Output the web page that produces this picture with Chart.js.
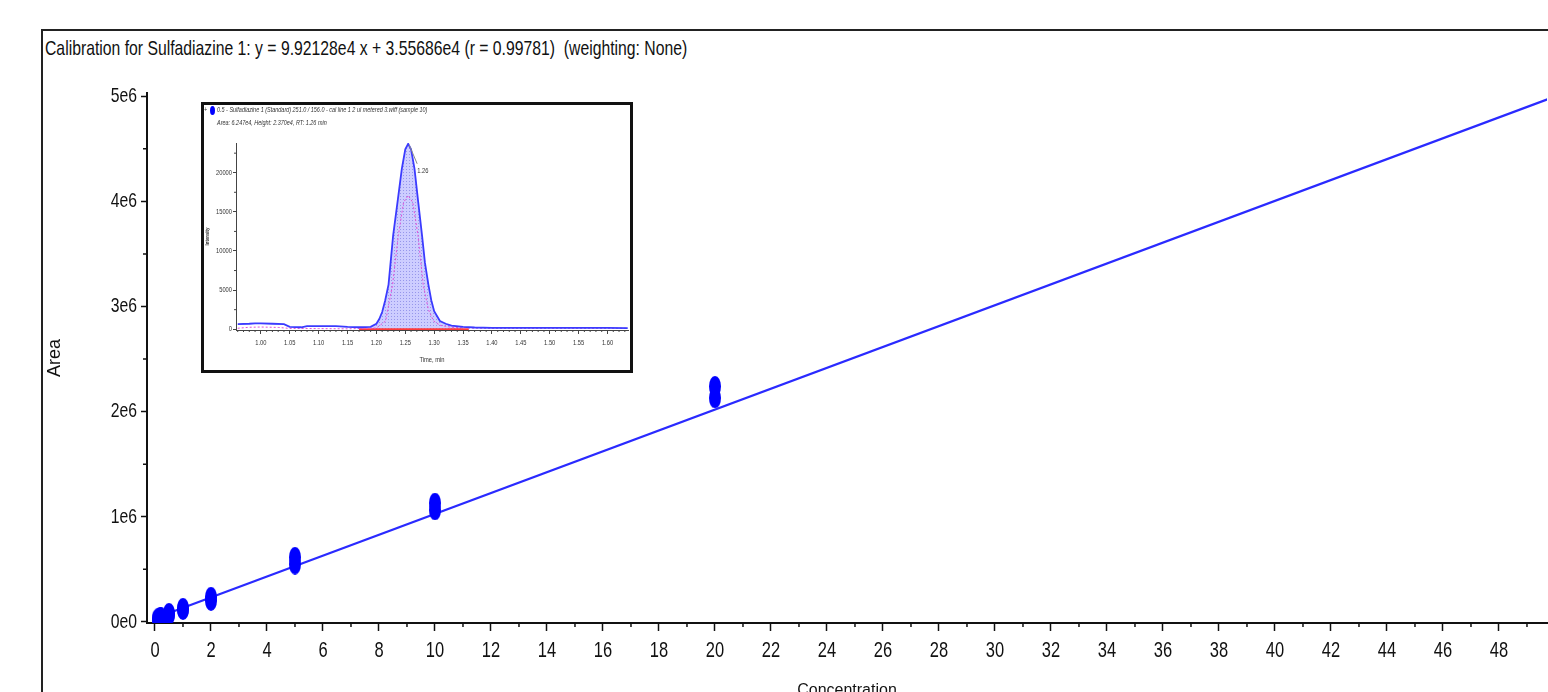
<!DOCTYPE html>
<html>
<head>
<meta charset="utf-8">
<script src="https://cdn.jsdelivr.net/npm/chart.js@4.4.1/dist/chart.umd.min.js"></script>
<style>
  body { margin: 0; background: #fff; overflow: hidden; }
  #wrap { position: relative; width: 1548px; height: 692px; overflow: hidden; }
  #frame { position: absolute; left: 41px; top: 29px; width: 1600px; height: 700px;
           border-left: 2px solid #222; border-top: 2px solid #222; }
  #title { position: absolute; left: 45px; top: 35px; white-space: pre; color: #111; line-height: 26px;
           font-size: 21px; font-family: 'Liberation Sans', Arial, sans-serif;
           transform: scaleX(0.75); transform-origin: 0 0; }
  #main { position: absolute; left: 0; top: 0; }
  #inset { position: absolute; left: 201px; top: 102px; width: 426px; height: 265px;
           border: 3px solid #111; background: #fff; }
  #inset canvas { position: absolute; left: 0; top: 0; }
  .hdr { position: absolute; white-space: pre; color: #333; line-height: 9px;
         font: italic 7px 'Liberation Sans', Arial, sans-serif;
         transform: scaleX(0.78); transform-origin: 0 0; }
  #dot { position: absolute; left: 6px; top: 1px; width: 5px; height: 9px; border-radius: 50%; background: #0000ff; }
</style>
</head>
<body>
<div id="wrap">
  <div id="frame"></div>
  <div id="title">Calibration for Sulfadiazine 1: y = 9.92128e4 x + 3.55686e4 (r = 0.99781)  (weighting: None)</div>
  <canvas id="main" width="1556" height="692"></canvas>
  <div id="inset">
    <canvas id="insetChart" width="426" height="265"></canvas>
    <div class="hdr" style="left:0px;top:1px;">+</div>
    <div id="dot"></div>
    <div class="hdr" style="left:13px;top:1px;">0.5 - Sulfadiazine 1 (Standard) 251.0 / 156.0 - cal line 1 2 ul metered 3.wiff (sample 10)</div>
    <div class="hdr" style="left:13px;top:14px;">Area: 6.247e4, Height: 2.370e4, RT: 1.26 min</div>
  </div>
</div>
<script>
// "Narrow" is only a tag: text set in it is squeezed horizontally (see condense)
const NARROW = "'Liberation Sans Narrow', 'Liberation Sans', Arial, sans-serif";
const SANS = "'Liberation Sans', Arial, sans-serif";

// Calibration points (replicates)
const concX = [0.1, 0.1, 0.2, 0.2, 0.5, 0.5, 1, 1, 2, 2, 5, 5, 10, 10, 20, 20];
const areaY = [22000, 30000, 38000, 45000, 68000, 82000, 118000, 130000,
               205000, 235000, 550000, 615000, 1065000, 1130000, 2130000, 2240000];

// Fitted line end points (y = 9.92128e4 x + 3.55686e4)
const fitX = [0, 50];
const fitY = [35569, 4996209];

const xTicks = [0, 2, 4, 6, 8, 10, 12, 14, 16, 18, 20, 22, 24, 26, 28, 30, 32, 34, 36, 38, 40, 42, 44, 46, 48];
const xMinor = [1, 3, 5, 7, 9, 11, 13, 15, 17, 19, 21, 23, 25, 27, 29, 31, 33, 35, 37, 39, 41, 43, 45, 47, 49];
const yTicks = [0, 1e6, 2e6, 3e6, 4e6, 5e6];
const yTickLabels = ['0e0', '1e6', '2e6', '3e6', '4e6', '5e6'];
const yMinor = [5e5, 1.5e6, 2.5e6, 3.5e6, 4.5e6];

// Inset chromatogram (XIC)
const rtTime = [0.96, 0.98, 0.99, 1.00, 1.02, 1.04, 1.05, 1.07, 1.08, 1.10, 1.13, 1.15, 1.17, 1.19, 1.20,
                1.205, 1.21, 1.215, 1.221, 1.229, 1.237, 1.244, 1.25, 1.255, 1.26, 1.266, 1.272, 1.279,
                1.284, 1.29, 1.295, 1.30, 1.31, 1.32, 1.33, 1.35, 1.37, 1.40, 1.45, 1.50, 1.55, 1.60, 1.635];
const blueInt = [650, 700, 750, 750, 700, 650, 300, 250, 400, 400, 400, 300, 250, 300, 700,
                 1300, 2200, 3600, 5700, 12000, 16500, 20500, 23000, 23700, 23000, 20500, 16500, 12000,
                 8500, 5700, 3700, 2300, 1050, 700, 450, 300, 220, 180, 160, 160, 160, 160, 130];
const pinkTime = [0.96, 0.98, 1.00, 1.03, 1.05, 1.10, 1.15, 1.20, 1.216, 1.228, 1.238, 1.247, 1.255,
                  1.263, 1.272, 1.281, 1.29, 1.299, 1.31, 1.33, 1.36, 1.40, 1.50, 1.635];
const pinkInt = [120, 250, 280, 230, 100, 80, 50, 150, 1050, 5700, 12000, 16200, 17100,
                 16200, 12000, 5700, 2500, 1050, 500, 250, 150, 120, 120, 120];
const baseTime = [1.17, 1.36];
const baseInt = [0, 0];
const insetXTicks = [1.00, 1.05, 1.10, 1.15, 1.20, 1.25, 1.30, 1.35, 1.40, 1.45, 1.50, 1.55, 1.60];
const insetYTicks = [0, 5000, 10000, 15000, 20000];
const insetYMinor = [2500, 7500, 12500, 17500, 22500];
const peakRT = 1.255, peakHeight = 23700, peakLabel = '1.26';

// squeeze text drawn in the NARROW family, like the condensed font of the original
function condense(canvas, factor) {
  const ctx = canvas.getContext('2d');
  const orig = ctx.fillText.bind(ctx);
  ctx.fillText = function (text, x, y, maxWidth) {
    if (!ctx.font.includes('Narrow')) {
      return maxWidth === undefined ? orig(text, x, y) : orig(text, x, y, maxWidth);
    }
    ctx.save();
    ctx.translate(x, y);
    ctx.scale(factor, 1);
    if (maxWidth === undefined) orig(text, 0, 0);
    else orig(text, 0, 0, maxWidth / factor);
    ctx.restore();
  };
}

// small tick marks between labelled ticks
const minorTicks = {
  id: 'minorTicks',
  afterDraw(chart, args, opts) {
    const ctx = chart.ctx;
    const xs = chart.scales.x, ys = chart.scales.y;
    ctx.save();
    ctx.strokeStyle = opts.color;
    ctx.lineWidth = opts.width;
    ctx.beginPath();
    opts.x.forEach(v => {
      const px = xs.getPixelForValue(v);
      if (px < xs.left || px > xs.right) return;
      ctx.moveTo(px, xs.top);
      ctx.lineTo(px, xs.top + opts.len);
    });
    opts.y.forEach(v => {
      const py = ys.getPixelForValue(v);
      ctx.moveTo(ys.right - opts.len, py);
      ctx.lineTo(ys.right, py);
    });
    ctx.stroke();
    ctx.restore();
  }
};

// ellipse marker for calibration points
function ellipseMarker(w, h, color) {
  const c = document.createElement('canvas');
  c.width = w; c.height = h;
  const g = c.getContext('2d');
  g.fillStyle = color;
  g.beginPath();
  g.ellipse(w / 2, h / 2, w / 2, h / 2, 0, 0, Math.PI * 2);
  g.fill();
  return c;
}
const marker = ellipseMarker(12, 21, '#0000ff');

const mainCanvas = document.getElementById('main');
condense(mainCanvas, 0.75);

new Chart(mainCanvas, {
  type: 'scatter',
  data: {
    datasets: [
      {
        label: 'Standards',
        data: concX.map((x, i) => ({ x, y: areaY[i] })),
        pointStyle: marker,
        pointRadius: 8,
        order: 0
      },
      {
        label: 'Fit',
        data: fitX.map((x, i) => ({ x, y: fitY[i] })),
        showLine: true,
        borderColor: '#2a2aff',
        borderWidth: 2.2,
        pointRadius: 0,
        order: 1
      }
    ]
  },
  options: {
    responsive: false,
    animation: false,
    devicePixelRatio: 1,
    layout: { padding: { top: 93, left: 0, right: 0, bottom: 0 } },
    plugins: {
      legend: { display: false },
      tooltip: { enabled: false },
      minorTicks: { x: xMinor, y: yMinor, len: 4, color: '#111', width: 1.5 }
    },
    scales: {
      x: {
        type: 'linear',
        min: -0.285,
        max: 49.715,
        afterFit: s => { s.height = 69; },
        afterBuildTicks: s => { s.ticks = xTicks.map(v => ({ value: v })); },
        grid: { drawOnChartArea: false, tickLength: 8, tickColor: '#111', tickWidth: 1.5 },
        border: { display: true, color: '#111', width: 2 },
        ticks: { color: '#111', padding: 7, maxRotation: 0, autoSkip: false,
                 font: { family: NARROW, size: 22 }, callback: v => String(v) },
        title: { display: true, text: 'Concentration', color: '#111',
                 font: { family: SANS, size: 16 }, padding: { top: 0, bottom: -8 } }
      },
      y: {
        type: 'linear',
        min: -10000,
        max: 5030000,
        afterFit: s => { s.width = 147; },
        afterBuildTicks: s => { s.ticks = yTicks.map(v => ({ value: v })); },
        grid: { drawOnChartArea: false, tickLength: 6, tickColor: '#111', tickWidth: 1.5 },
        border: { display: true, color: '#111', width: 2 },
        ticks: { color: '#111', padding: 4, font: { family: NARROW, size: 21 },
                 callback: v => yTickLabels[yTicks.indexOf(v)] },
        title: { display: true, text: 'Area', color: '#111',
                 font: { family: SANS, size: 18 }, padding: { top: 44, bottom: 0 } }
      }
    }
  },
  plugins: [minorTicks]
});

// dotted fill used under the integrated peak
function dotPattern() {
  const c = document.createElement('canvas');
  c.width = 3; c.height = 3;
  const g = c.getContext('2d');
  g.fillStyle = 'rgba(205,205,255,1)';
  g.fillRect(0, 0, 3, 3);
  g.fillStyle = 'rgba(150,150,235,1)';
  g.fillRect(1, 1, 1, 1);
  return g.createPattern(c, 'repeat');
}

const peakLabelPlugin = {
  id: 'peakLabel',
  afterDatasetsDraw(chart) {
    const ctx = chart.ctx;
    const px = chart.scales.x.getPixelForValue(peakRT);
    const py = chart.scales.y.getPixelForValue(peakHeight);
    ctx.save();
    ctx.strokeStyle = '#888';
    ctx.lineWidth = 1;
    ctx.beginPath();
    ctx.moveTo(px + 1, py + 1);
    ctx.lineTo(px + 9, py + 20);
    ctx.stroke();
    ctx.fillStyle = '#333';
    ctx.font = '8px ' + NARROW;
    ctx.textBaseline = 'middle';
    ctx.fillText(peakLabel, px + 9, py + 27);
    ctx.restore();
  }
};

const insetMinorX = [];
for (let k = 96; k <= 163; k++) if (k % 5 !== 0) insetMinorX.push(k / 100);

const peakFill = rtTime
  .map((t, i) => ({ x: t, y: blueInt[i] }))
  .filter(p => p.x >= 1.19 && p.x <= 1.36);

const insetCanvas = document.getElementById('insetChart');
condense(insetCanvas, 0.72);

new Chart(insetCanvas, {
  type: 'scatter',
  data: {
    datasets: [
      {
        label: 'area',
        data: peakFill,
        showLine: true,
        fill: 'origin',
        backgroundColor: dotPattern(),
        borderWidth: 0,
        pointRadius: 0,
        order: 4
      },
      {
        label: 'baseline',
        data: baseTime.map((x, i) => ({ x, y: baseInt[i] })),
        showLine: true,
        borderColor: '#ff3a3a',
        borderWidth: 2,
        pointRadius: 0,
        order: 3
      },
      {
        label: '251.0 / 156.0',
        data: rtTime.map((x, i) => ({ x, y: blueInt[i] })),
        showLine: true,
        borderColor: '#3b3bff',
        borderWidth: 1.8,
        pointRadius: 0,
        order: 1
      },
      {
        label: 'qualifier',
        data: pinkTime.map((x, i) => ({ x, y: pinkInt[i] })),
        showLine: true,
        borderColor: '#e050d8',
        borderWidth: 1,
        borderDash: [2, 2],
        pointRadius: 0,
        order: 2
      }
    ]
  },
  options: {
    responsive: false,
    animation: false,
    devicePixelRatio: 1,
    layout: { padding: { top: 38, left: 0, right: 2, bottom: 0 } },
    plugins: {
      legend: { display: false },
      tooltip: { enabled: false },
      minorTicks: { x: insetMinorX, y: insetYMinor, len: 2, color: '#444', width: 1 }
    },
    scales: {
      x: {
        type: 'linear',
        min: 0.957,
        max: 1.6355,
        afterFit: s => { s.height = 40; },
        afterBuildTicks: s => { s.ticks = insetXTicks.map(v => ({ value: v })); },
        grid: { drawOnChartArea: false, tickLength: 4, tickColor: '#444' },
        border: { display: true, color: '#444', width: 1 },
        ticks: { color: '#333', padding: 4, maxRotation: 0, autoSkip: false,
                 font: { family: NARROW, size: 8 }, callback: v => v.toFixed(2) },
        title: { display: true, text: 'Time, min', color: '#333',
                 font: { family: NARROW, size: 8 }, padding: { top: 0, bottom: 5 } }
      },
      y: {
        type: 'linear',
        min: -100,
        max: 23800,
        afterFit: s => { s.width = 32; },
        afterBuildTicks: s => { s.ticks = insetYTicks.map(v => ({ value: v })); },
        grid: { drawOnChartArea: false, tickLength: 3, tickColor: '#444' },
        border: { display: true, color: '#444', width: 1 },
        ticks: { color: '#333', padding: 1, font: { family: NARROW, size: 8 },
                 callback: v => String(v) },
        title: { display: true, text: 'Intensity', color: '#333',
                 font: { family: NARROW, size: 6, weight: 'bold' }, padding: { top: 0, bottom: 0 } }
      }
    }
  },
  plugins: [minorTicks, peakLabelPlugin]
});
</script>
</body>
</html>
